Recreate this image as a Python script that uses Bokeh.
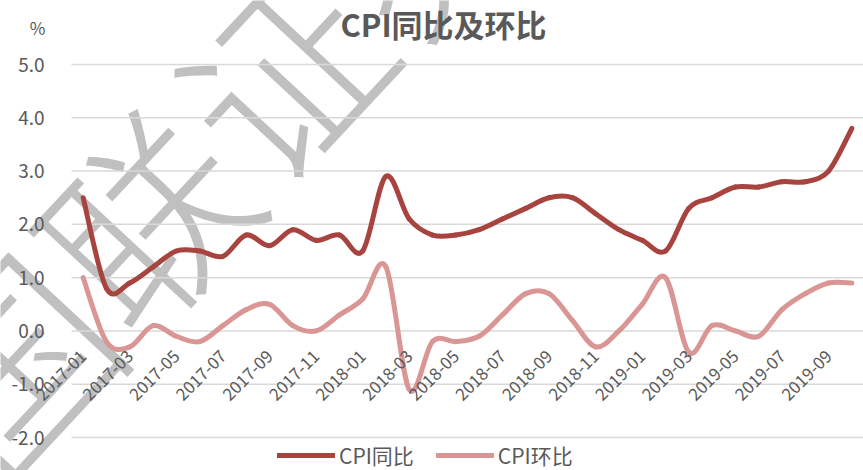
import math
from bokeh.plotting import figure
from bokeh.models import (FixedTicker, PrintfTickFormatter, Label, Legend, LegendItem,
                          Range1d, ColumnDataSource)
from bokeh.embed import file_html
from bokeh.resources import INLINE

# ---- data ----
months = ["2017-01", "2017-02", "2017-03", "2017-04", "2017-05", "2017-06",
          "2017-07", "2017-08", "2017-09", "2017-10", "2017-11", "2017-12",
          "2018-01", "2018-02", "2018-03", "2018-04", "2018-05", "2018-06",
          "2018-07", "2018-08", "2018-09", "2018-10", "2018-11", "2018-12",
          "2019-01", "2019-02", "2019-03", "2019-04", "2019-05", "2019-06",
          "2019-07", "2019-08", "2019-09", "2019-10"]
cpi_yoy = [2.5, 0.8, 0.9, 1.2, 1.5, 1.5, 1.4, 1.8, 1.6, 1.9, 1.7, 1.8,
           1.5, 2.9, 2.1, 1.8, 1.8, 1.9, 2.1, 2.3, 2.5, 2.5, 2.2, 1.9,
           1.7, 1.5, 2.3, 2.5, 2.7, 2.7, 2.8, 2.8, 3.0, 3.8]
cpi_mom = [1.0, -0.2, -0.3, 0.1, -0.1, -0.2, 0.1, 0.4, 0.5, 0.1, 0.0, 0.3,
           0.6, 1.2, -1.1, -0.2, -0.2, -0.1, 0.3, 0.7, 0.7, 0.2, -0.3, 0.0,
           0.5, 1.0, -0.4, 0.1, 0.0, -0.1, 0.4, 0.7, 0.9, 0.9]
series_names = ["CPI同比", "CPI环比"]
y_ticks = [-2.0, -1.0, 0.0, 1.0, 2.0, 3.0, 4.0, 5.0]
title_text = "CPI同比及环比"
unit_text = "%"
watermark_text = "国联证券"

FONT = "Noto Sans CJK SC"
GREY = "#595959"
C_YOY = "#A8443F"
C_MOM = "#D99694"

W, H = 863, 470
n = len(months)
# plot-area placement inside the canvas (pixels)
AREA_LEFT, AREA_RIGHT = 71, 863
AREA_TOP, AREA_BOTTOM = 64, 437
px_x = (AREA_RIGHT - AREA_LEFT) / n
px_y = (AREA_BOTTOM - AREA_TOP) / (y_ticks[-1] - y_ticks[0])
x0_data = -0.5 - AREA_LEFT / px_x
x1_data = x0_data + W / px_x
y1_data = y_ticks[-1] + AREA_TOP / px_y
y0_data = y1_data - H / px_y


def fx(px):  # canvas pixel -> data x (for decorations only)
    return x0_data + px / px_x


def fy(py):  # canvas pixel -> data y (for decorations only)
    return y1_data - py / px_y


def smooth_segments(vals):
    """Cubic Bezier segments (Excel-like smoothed line) through the data points."""
    m = len(vals)
    d = dict(x0=[], y0=[], x1=[], y1=[], cx0=[], cy0=[], cx1=[], cy1=[])
    for i in range(m - 1):
        ip = max(i - 1, 0)
        inn = min(i + 2, m - 1)
        d["x0"].append(i); d["y0"].append(vals[i])
        d["x1"].append(i + 1); d["y1"].append(vals[i + 1])
        d["cx0"].append(i + (i + 1 - ip) / 6)
        d["cy0"].append(vals[i] + (vals[i + 1] - vals[ip]) / 6)
        d["cx1"].append(i + 1 - (inn - i) / 6)
        d["cy1"].append(vals[i + 1] - (vals[inn] - vals[i]) / 6)
    return ColumnDataSource(d)


p = figure(width=W, height=H, output_backend="svg", toolbar_location=None, title=None,
           x_range=Range1d(x0_data, x1_data), y_range=Range1d(y0_data, y1_data),
           min_border_left=0, min_border_right=0, min_border_top=0, min_border_bottom=0)
p.outline_line_color = None
p.background_fill_color = "white"
p.border_fill_color = "white"
p.xgrid.grid_line_color = None
p.ygrid.grid_line_color = None

# watermark (behind everything)
p.add_layout(Label(x=fx(208), y=fy(140), text=watermark_text, angle=math.radians(47),
                   text_align="center", text_baseline="middle", text_font=FONT,
                   text_font_size="200px", text_color="#C0C0C0", level="image"))

# horizontal gridlines across the plot area only
p.segment(x0=[-0.5] * len(y_ticks), x1=[n - 0.5] * len(y_ticks), y0=y_ticks, y1=y_ticks,
          line_color="#D9D9D9", line_width=1.5)

# title
p.add_layout(Label(x=fx(443), y=fy(23), text=title_text, text_align="center",
                   text_baseline="middle", text_font=FONT, text_font_size="31px",
                   text_font_style="bold", text_color=GREY))

# unit label
p.add_layout(Label(x=fx(37), y=fy(27), text=unit_text, text_align="center",
                   text_baseline="middle", text_font=FONT, text_font_size="17px",
                   text_color=GREY))

# y axis at left edge of plot area
p.yaxis.fixed_location = -0.5
p.yaxis.ticker = FixedTicker(ticks=y_ticks)
p.yaxis.formatter = PrintfTickFormatter(format="%.1f")
p.yaxis.axis_line_color = None
p.yaxis.major_tick_line_color = None
p.yaxis.minor_tick_line_color = None
p.yaxis.major_tick_out = 0
p.yaxis.major_tick_in = 0
p.yaxis.major_label_standoff = 27
p.yaxis.major_label_text_font = FONT
p.yaxis.major_label_text_font_size = "19px"
p.yaxis.major_label_text_color = GREY

# x axis crossing at 0
tick_idx = list(range(0, n, 2))
p.xaxis.ticker = FixedTicker(ticks=tick_idx)
p.xaxis.major_label_overrides = {i: months[i] for i in tick_idx}
p.xaxis.fixed_location = 0
p.xaxis.axis_line_color = None
p.xaxis.major_tick_line_color = None
p.xaxis.minor_tick_line_color = None
p.xaxis.major_tick_out = 0
p.xaxis.major_tick_in = 0
p.xaxis.major_label_orientation = math.pi / 4
p.xaxis.major_label_standoff = 22
p.xaxis.major_label_text_font = FONT
p.xaxis.major_label_text_font_size = "17px"
p.xaxis.major_label_text_color = GREY

# lines
r1 = p.bezier("x0", "y0", "x1", "y1", "cx0", "cy0", "cx1", "cy1",
              source=smooth_segments(cpi_yoy), line_color=C_YOY, line_width=5,
              line_cap="round")
r2 = p.bezier("x0", "y0", "x1", "y1", "cx0", "cy0", "cx1", "cy1",
              source=smooth_segments(cpi_mom), line_color=C_MOM, line_width=5,
              line_cap="round")

legend = Legend(items=[LegendItem(label=series_names[0], renderers=[r1]),
                       LegendItem(label=series_names[1], renderers=[r2])],
                orientation="horizontal", location=(277, 0),
                glyph_width=58, glyph_height=16, label_standoff=4, spacing=22,
                padding=0, margin=0, border_line_color=None, background_fill_alpha=0,
                label_text_font=FONT, label_text_font_size="21px",
                label_text_color=GREY)
p.add_layout(legend, "center")

open("out.html", "w").write(file_html(p, INLINE))
